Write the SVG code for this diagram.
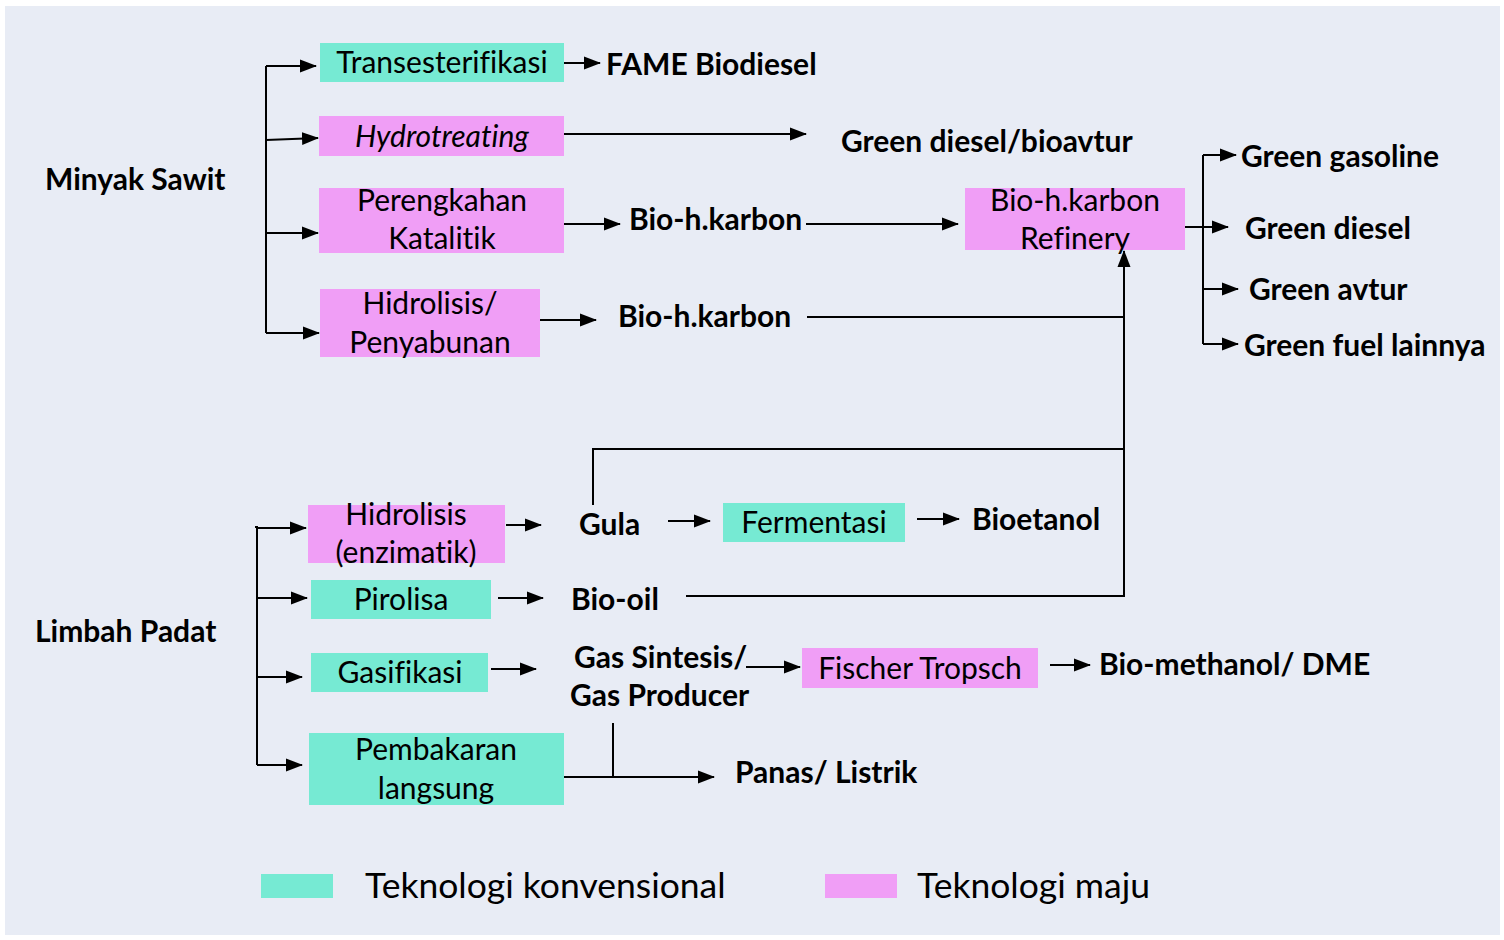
<svg xmlns="http://www.w3.org/2000/svg" width="1504" height="940" viewBox="0 0 1504 940">
<style>
text{font-family:Lato,"Open Sans","Liberation Sans",sans-serif;fill:#000;font-variant-ligatures:none}
.b{font-weight:bold;font-size:30px}
.n{font-size:30px}
.lg{font-size:35.5px}
.teal{fill:#76EAD3}
.pink{fill:#F09EF6}
.ln{stroke:#000;stroke-width:2;fill:none}
.ar{stroke:#000;stroke-width:2;fill:none;marker-end:url(#ah)}
</style>
<defs>
<marker id="ah" markerUnits="userSpaceOnUse" markerWidth="17" markerHeight="14" refX="16" refY="7" orient="auto">
<path d="M0,0.5 L17,7 L0,13.5 Z" fill="#000"/>
</marker>
</defs>
<rect x="0" y="0" width="1504" height="940" fill="#fff"/>
<rect x="5" y="6" width="1495" height="929" fill="#E8ECF5"/>

<g id="minyak"><text class="b" x="45" y="190">Minyak Sawit</text></g>
<g id="transesterifikasi"><rect class="teal" x="320" y="43" width="244" height="39"/><text class="n" x="442" y="73" text-anchor="middle">Transesterifikasi</text></g>
<g id="hydrotreating"><rect class="pink" x="319" y="116" width="245" height="40"/><text class="n" x="442" y="147" text-anchor="middle" font-style="italic">Hydrotreating</text></g>
<g id="perengkahan"><rect class="pink" x="319" y="188" width="245" height="65"/><text class="n" x="442" y="211" text-anchor="middle">Perengkahan</text><text class="n" x="442" y="249" text-anchor="middle">Katalitik</text></g>
<g id="hidrolisis1"><rect class="pink" x="320" y="289" width="220" height="68"/><text class="n" x="430" y="314" text-anchor="middle">Hidrolisis/</text><text class="n" x="430" y="353" text-anchor="middle">Penyabunan</text></g>
<g id="fame"><text class="b" x="606" y="75">FAME Biodiesel</text></g>
<g id="greendieselbio"><text class="b" x="841" y="152">Green diesel/bioavtur</text></g>
<g id="biohk1"><text class="b" x="629" y="230">Bio-h.karbon</text></g>
<g id="biohk2"><text class="b" x="618" y="327">Bio-h.karbon</text></g>
<g id="refinery"><rect class="pink" x="965" y="188" width="220" height="62"/><text class="n" x="1075" y="211" text-anchor="middle">Bio-h.karbon</text><text class="n" x="1075" y="249" text-anchor="middle">Refinery</text></g>
<g id="gasoline"><text class="b" x="1241" y="167">Green gasoline</text></g>
<g id="gdiesel"><text class="b" x="1245" y="239">Green diesel</text></g>
<g id="avtur"><text class="b" x="1249" y="300">Green avtur</text></g>
<g id="lainnya"><text class="b" x="1244" y="356">Green fuel lainnya</text></g>

<g id="limbah"><text class="b" x="35" y="642">Limbah Padat</text></g>
<g id="hidrolisis2"><rect class="pink" x="308" y="505" width="197" height="58"/><text class="n" x="406" y="525" text-anchor="middle">Hidrolisis</text><text class="n" x="406" y="563" text-anchor="middle">(enzimatik)</text></g>
<g id="pirolisa"><rect class="teal" x="311" y="580" width="180" height="39"/><text class="n" x="401" y="610" text-anchor="middle">Pirolisa</text></g>
<g id="gasifikasi"><rect class="teal" x="311" y="653" width="177" height="39"/><text class="n" x="400" y="683" text-anchor="middle">Gasifikasi</text></g>
<g id="pembakaran"><rect class="teal" x="309" y="733" width="255" height="72"/><text class="n" x="436" y="760" text-anchor="middle">Pembakaran</text><text class="n" x="436" y="799" text-anchor="middle">langsung</text></g>
<g id="gula"><text class="b" x="579" y="535">Gula</text></g>
<g id="fermentasi"><rect class="teal" x="723" y="503" width="182" height="39"/><text class="n" x="814" y="533" text-anchor="middle">Fermentasi</text></g>
<g id="bioetanol"><text class="b" x="972" y="530">Bioetanol</text></g>
<g id="biooil"><text class="b" x="571" y="610">Bio-oil</text></g>
<g id="gassintesis"><text class="b" x="574" y="668">Gas Sintesis/</text><text class="b" x="570" y="706">Gas Producer</text></g>
<g id="fischer"><rect class="pink" x="802" y="648" width="236" height="40"/><text class="n" x="920" y="679" text-anchor="middle">Fischer Tropsch</text></g>
<g id="biomethanol"><text class="b" x="1099" y="675">Bio-methanol/ DME</text></g>
<g id="panas"><text class="b" x="735" y="783">Panas/ Listrik</text></g>

<g id="legend">
<rect class="teal" x="261" y="874" width="72" height="24"/><text class="lg" x="365" y="898">Teknologi konvensional</text>
<rect class="pink" x="825" y="874" width="72" height="24"/><text class="lg" x="917" y="898">Teknologi maju</text>
</g>

<g id="connectors">
<path class="ln" d="M266,66 V333"/>
<path class="ar" d="M266,66 H316"/>
<path class="ar" d="M266,140 L318,138"/>
<path class="ar" d="M266,233 H318"/>
<path class="ar" d="M266,333 H319"/>
<path class="ar" d="M564,63 H600"/>
<path class="ar" d="M564,134 H806"/>
<path class="ar" d="M564,224 H620"/>
<path class="ar" d="M806,224 H958"/>
<path class="ar" d="M540,320 H596"/>
<path class="ln" d="M807,317 H1124"/>
<path class="ar" d="M1124,596 V251"/>
<path class="ar" d="M1185,227 H1228"/>
<path class="ln" d="M1203,155 V344"/>
<path class="ar" d="M1203,155 H1236"/>
<path class="ar" d="M1203,289 H1238"/>
<path class="ar" d="M1203,344 H1238"/>

<path class="ln" d="M255,527 H257 V765"/>
<path class="ar" d="M257,528 H306"/>
<path class="ar" d="M257,598 H307"/>
<path class="ar" d="M257,677 H302"/>
<path class="ar" d="M257,765 H302"/>
<path class="ar" d="M506,525 H541"/>
<path class="ar" d="M668,521 H710"/>
<path class="ar" d="M917,519 H959"/>
<path class="ln" d="M593,505 V449 H1124"/>
<path class="ar" d="M498,598 H543"/>
<path class="ln" d="M686,596 H1125"/>
<path class="ar" d="M491,669 H536"/>
<path class="ar" d="M746,667 H800"/>
<path class="ar" d="M1050,665 H1090"/>
<path class="ar" d="M564,777 H714"/>
<path class="ln" d="M613,723 V777"/>
</g>
</svg>
